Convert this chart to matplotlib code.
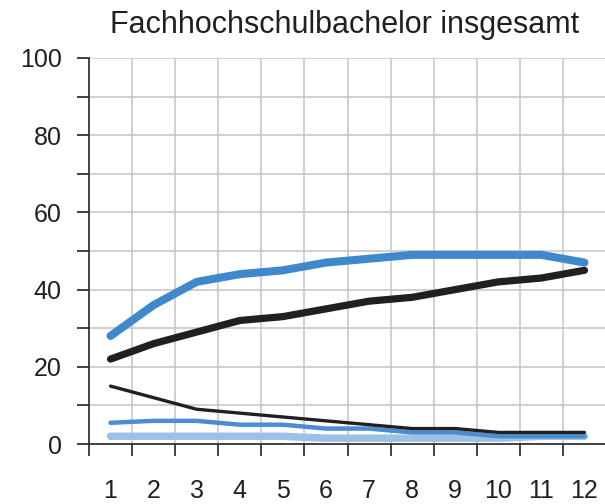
import matplotlib
matplotlib.use("Agg")
import matplotlib.pyplot as plt
import numpy as np

# Data
years = [1, 2, 3, 4, 5, 6, 7, 8, 9, 10, 11, 12]
x_labels = ["1", "2", "3", "4", "5", "6", "7", "8", "9", "10", "11", "12"]
blue_thick = [28, 36, 42, 44, 45, 47, 48, 49, 49, 49, 49, 47]
black_thick = [22, 26, 29, 32, 33, 35, 37, 38, 40, 42, 43, 45]
black_thin = [15, 12, 9, 8, 7, 6, 5, 4, 4, 3, 3, 3]
blue_thin = [5.5, 6, 6, 5, 5, 4, 4, 3, 3, 2, 2, 2]
light_blue_thick = [2, 2, 2, 2, 2, 1.5, 1.5, 1.5, 1.5, 1.5, 2, 2]
y_ticks = [0, 20, 40, 60, 80, 100]
title = "Fachhochschulbachelor insgesamt"

plt.rcParams['font.family'] = ['Liberation Sans', 'DejaVu Sans']

W, H = 605, 504
fig = plt.figure(figsize=(W / 100, H / 100), dpi=100)
ax = fig.add_axes([89 / W, 60 / H, 517 / W, 386 / H])

text_col = "#231f20"
grid_col = "#c8c8c8"

ax.plot(years, light_blue_thick, color="#9fc0e6", lw=5.4, solid_capstyle="round", zorder=3)
ax.plot(years, blue_thin, color="#4a8dd0", lw=3.2, solid_capstyle="round", zorder=4)
ax.plot(years, black_thin, color=text_col, lw=2.4, solid_capstyle="round", zorder=5)
ax.plot(years, black_thick, color=text_col, lw=5.2, solid_capstyle="round", zorder=5)
ax.plot(years, blue_thick, color="#3f88cc", lw=5.8, solid_capstyle="round", zorder=6)

ax.set_xlim(0.5, 12.5)
ax.set_ylim(0, 100)

# x: major ticks at boundaries, labels at centres
ax.set_xticks(np.arange(0.5, 12.5, 1.0))
ax.set_xticklabels([])
ax.set_xticks(years, minor=True)
ax.set_xticklabels(x_labels, minor=True)
ax.tick_params(axis="x", which="major", direction="out", length=8.6, width=1.3, color="#333333")
ax.tick_params(axis="x", which="minor", length=0, pad=25, labelsize=18, labelcolor=text_col)

ax.set_yticks(y_ticks)
ax.set_yticks([10, 30, 50, 70, 90], minor=True)
ax.tick_params(axis="y", which="both", direction="out", length=8.6, width=1.3, color="#333333")
ax.tick_params(axis="y", which="major", pad=11, labelsize=18, labelcolor=text_col)

# grid
for yv in range(10, 101, 10):
    ax.axhline(yv, color=grid_col, lw=1.2, zorder=1)
for xv in np.arange(1.5, 13, 1.0):
    ax.axvline(xv, color=grid_col, lw=1.2, zorder=1)

for s in ["top", "right"]:
    ax.spines[s].set_visible(False)
for s in ["left", "bottom"]:
    ax.spines[s].set_color("#333333")
    ax.spines[s].set_linewidth(1.3)
    ax.spines[s].set_zorder(7)

fig.text(345 / W, 1 - 25 / H, title, ha="center", va="center", fontsize=22, color=text_col)

fig.savefig("out.png", dpi=100)
